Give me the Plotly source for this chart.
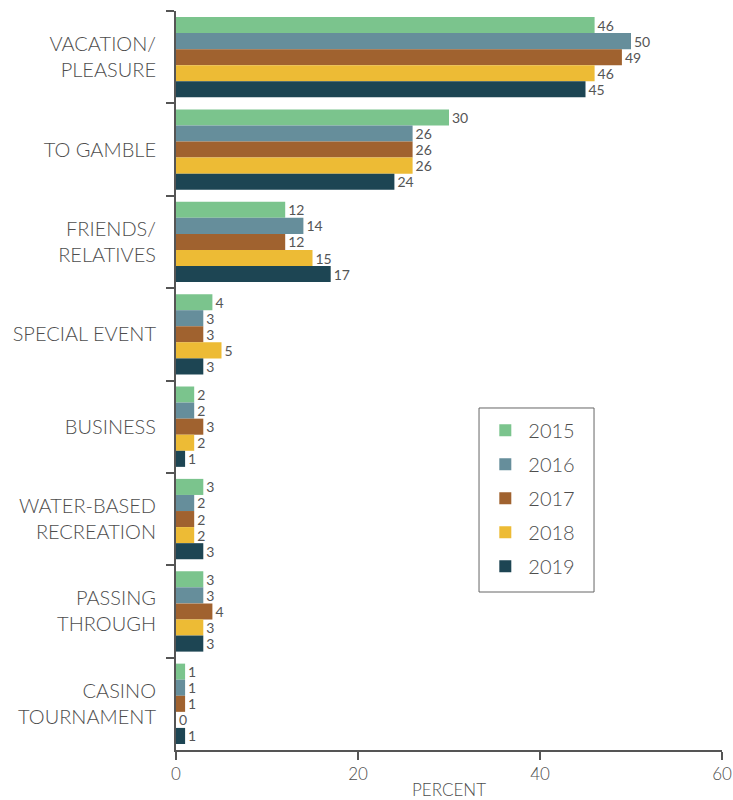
import plotly.graph_objects as go

categories = [
    "VACATION/<br>PLEASURE",
    "TO GAMBLE",
    "FRIENDS/<br>RELATIVES",
    "SPECIAL EVENT",
    "BUSINESS",
    "WATER-BASED<br>RECREATION",
    "PASSING<br>THROUGH",
    "CASINO<br>TOURNAMENT",
]
years = ["2015", "2016", "2017", "2018", "2019"]
values_2015 = [46, 30, 12, 4, 2, 3, 3, 1]
values_2016 = [50, 26, 14, 3, 2, 2, 3, 1]
values_2017 = [49, 26, 12, 3, 3, 2, 4, 1]
values_2018 = [46, 26, 15, 5, 2, 2, 3, 0]
values_2019 = [45, 24, 17, 3, 1, 3, 3, 1]
series = [values_2015, values_2016, values_2017, values_2018, values_2019]
colors = ["#7BC48D", "#668E9B", "#A0622F", "#EDBB35", "#1D4553"]

text_color = "#4d4d4d"
axis_color = "#555555"
font_family = "Lato, 'Open Sans', sans-serif"
label_font = dict(size=14, color="#555555", family=font_family, weight="normal")

fig = go.Figure()
for year, vals, col in zip(years, series, colors):
    fig.add_trace(go.Bar(
        name=year,
        legendgroup=year,
        y=categories,
        x=vals,
        orientation="h",
        marker=dict(color=col, line=dict(width=0)),
        text=[str(v) for v in vals],
        textposition="outside",
        constraintext="none",
        textfont=label_font,
        outsidetextfont=label_font,
        insidetextfont=label_font,
        cliponaxis=False,
    ))

fig.update_layout(
    width=733,
    height=800,
    margin=dict(l=176, r=11, t=11, b=50),
    barmode="group",
    bargap=0.13,
    bargroupgap=0,
    plot_bgcolor="white",
    paper_bgcolor="white",
    font=dict(family=font_family, color=text_color, size=20),
    legend=dict(
        x=0.561, y=0.459, xanchor="left", yanchor="top",
        borderwidth=0, bgcolor="rgba(0,0,0,0)",
        font=dict(size=20, color=text_color, weight=300),
        tracegroupgap=5,
        itemwidth=36,
    ),
    # frame around the legend
    shapes=[dict(
        type="rect", xref="paper", yref="paper",
        x0=0.555, x1=0.7656, y0=0.2138, y1=0.4628,
        line=dict(color="#666666", width=1), fillcolor="rgba(0,0,0,0)",
        layer="above",
    )],
)

fig.update_yaxes(
    autorange="reversed",
    showline=True, linecolor=axis_color, linewidth=2,
    ticks="outside", tickson="boundaries", ticklen=8, tickcolor=axis_color, tickwidth=2,
    tickfont=dict(size=20, color=text_color, weight=300),
    ticklabelstandoff=14,
    showgrid=False,
)
fig.update_xaxes(
    range=[0, 60],
    tickvals=[0, 20, 40, 60],
    automargin=False,
    showline=True, linecolor=axis_color, linewidth=2,
    ticks="outside", ticklen=8, tickcolor=axis_color, tickwidth=2,
    tickfont=dict(size=17, color=text_color, weight=300),
    title=dict(text="PERCENT", font=dict(size=17, color=text_color, weight=300), standoff=9),
    showgrid=False, zeroline=False,
)

fig.write_html("out.html")
